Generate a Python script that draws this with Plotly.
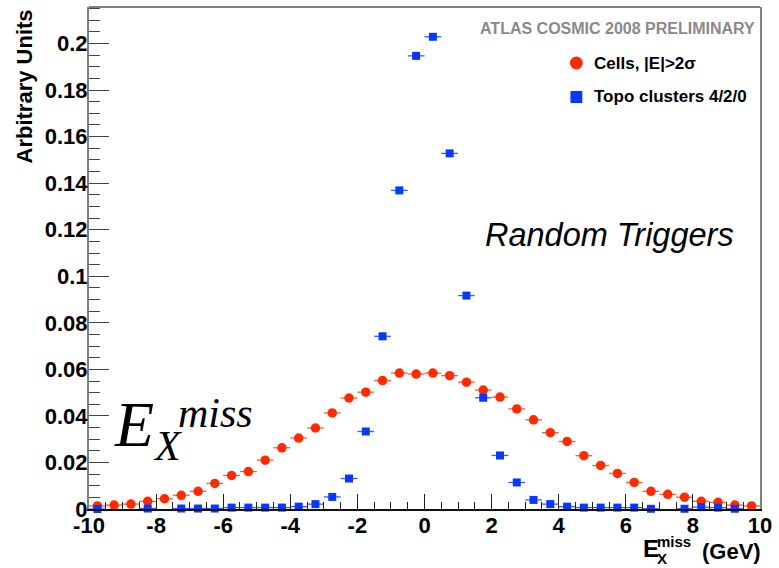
import plotly.graph_objects as go

# Bin centres of the E_X^miss histograms (GeV), 0.5 GeV bins from -10 to 10
bin_centers = [
    -9.75, -9.25, -8.75, -8.25, -7.75, -7.25, -6.75, -6.25, -5.75, -5.25,
    -4.75, -4.25, -3.75, -3.25, -2.75, -2.25, -1.75, -1.25, -0.75, -0.25,
    0.25, 0.75, 1.25, 1.75, 2.25, 2.75, 3.25, 3.75, 4.25, 4.75,
    5.25, 5.75, 6.25, 6.75, 7.25, 7.75, 8.25, 8.75, 9.25, 9.75,
]
bin_half_width = 0.25

# Cells with |E| > 2 sigma
cells_values = [
    0.0013, 0.0017, 0.0021, 0.0033, 0.0044, 0.0059, 0.0076, 0.0110, 0.0144, 0.0161,
    0.0210, 0.0263, 0.0305, 0.0348, 0.0413, 0.0477, 0.0502, 0.0552, 0.0584, 0.0580,
    0.0584, 0.0573, 0.0545, 0.0511, 0.0481, 0.0430, 0.0383, 0.0328, 0.0290, 0.0229,
    0.0187, 0.0153, 0.0114, 0.0076, 0.0063, 0.0051, 0.0033, 0.0029, 0.0017, 0.0013,
]
cells_error = 0.0006

# Topo clusters 4/2/0 (empty bins are None)
topo_values = [
    0.0000, None, None, 0.0002, None, 0.0002, 0.0002, 0.0002, 0.0006, 0.0006,
    0.0006, 0.0006, 0.0010, 0.0021, 0.0052, 0.0131, 0.0333, 0.0742, 0.1369, 0.1947,
    0.2029, 0.1528, 0.0917, 0.0478, 0.0230, 0.0114, 0.0039, 0.0021, 0.0010, 0.0006,
    0.0006, 0.0006, 0.0006, 0.0001, None, 0.0001, 0.0008, 0.0006, 0.0001, None,
]
topo_error = 0.0015

x_tick_vals = [-10, -8, -6, -4, -2, 0, 2, 4, 6, 8, 10]
x_tick_text = ["-10", "-8", "-6", "-4", "-2", "0", "2", "4", "6", "8", "10"]
y_tick_vals = [0, 0.02, 0.04, 0.06, 0.08, 0.1, 0.12, 0.14, 0.16, 0.18, 0.2]
y_tick_text = ["0", "0.02", "0.04", "0.06", "0.08", "0.1", "0.12", "0.14", "0.16", "0.18", "0.2"]

RED = "#ff2a00"
BLUE = "#0638ff"
SANS = "Liberation Sans, Arial, Helvetica, sans-serif"
SERIF = "Liberation Serif, Times New Roman, serif"

fig = go.Figure()

fig.add_trace(go.Scatter(
    x=bin_centers, y=cells_values, mode="markers", name="Cells, |E|>2σ",
    marker=dict(symbol="circle", size=9.5, color=RED),
    error_x=dict(type="constant", value=bin_half_width, width=0, thickness=1.3, color="#ff5a3c"),
    error_y=dict(type="constant", value=cells_error, width=0, thickness=1.3, color="#ff5a3c"),
    cliponaxis=False, showlegend=False,
))
fig.add_trace(go.Scatter(
    x=bin_centers, y=topo_values, mode="markers", name="Topo clusters 4/2/0",
    marker=dict(symbol="square", size=8, color=BLUE),
    error_x=dict(type="constant", value=bin_half_width, width=0, thickness=1.3, color="#3a5cff"),
    error_y=dict(type="constant", value=topo_error, width=0, thickness=1.3, color="#3a5cff"),
    cliponaxis=False, showlegend=False,
))

W, H = 779, 568
L, R, T, B = 89, 14, 7, 59
PW, PH = W - L - R, H - T - B


def px(xp):
    return (xp - L) / PW


def py(yp):
    return (H - B - yp) / PH


annotations = [
    dict(text="ATLAS COSMIC 2008 PRELIMINARY", x=px(762), y=py(29), xanchor="right", yanchor="middle",
         font=dict(family=SANS, size=16, color="#8a8a8a", weight="bold")),
    dict(text="Cells, |E|>2σ", x=px(596), y=py(63), xanchor="left", yanchor="middle",
         font=dict(family=SANS, size=17, color="black", weight="bold")),
    dict(text="Topo clusters 4/2/0", x=px(596), y=py(97), xanchor="left", yanchor="middle",
         font=dict(family=SANS, size=17, color="black", weight="bold")),
    dict(text="<i>Random Triggers</i>", x=px(486), y=py(235), xanchor="left", yanchor="middle",
         font=dict(family=SANS, size=32.5, color="black")),
    # large E_X^miss label
    dict(text="<i>E</i>", x=px(112), y=py(424), xanchor="left", yanchor="middle",
         font=dict(family=SERIF, size=64, color="black")),
    dict(text="<i>X</i>", x=px(151), y=py(446), xanchor="left", yanchor="middle",
         font=dict(family=SERIF, size=42, color="black")),
    dict(text="<i>miss</i>", x=px(177), y=py(413), xanchor="left", yanchor="middle",
         font=dict(family=SERIF, size=42, color="black")),
    # axis titles
    dict(text="Arbitrary Units", x=px(25), y=py(86), xanchor="center", yanchor="middle", textangle=-90,
         font=dict(family=SANS, size=22, color="black", weight="bold")),
    dict(text="E", x=px(645), y=py(548), xanchor="left", yanchor="middle",
         font=dict(family=SANS, size=24, color="black", weight="bold")),
    dict(text="miss", x=px(659), y=py(541), xanchor="left", yanchor="middle",
         font=dict(family=SANS, size=15, color="black", weight="bold")),
    dict(text="X", x=px(659), y=py(558), xanchor="left", yanchor="middle",
         font=dict(family=SANS, size=15, color="black", weight="bold")),
    dict(text="(GeV)", x=px(768), y=py(551), xanchor="right", yanchor="middle",
         font=dict(family=SANS, size=22, color="black", weight="bold")),
]
for a in annotations:
    a.update(xref="paper", yref="paper", showarrow=False)

shapes = [
    # frame top edge
    dict(type="line", xref="paper", yref="paper", x0=0, x1=1, y0=1, y1=1,
         line=dict(color="#808080", width=2)),
    # legend symbols
    dict(type="circle", xref="paper", yref="paper", x0=px(573.5), x1=px(586.5), y0=py(69.5), y1=py(56.5),
         fillcolor=RED, line=dict(width=0)),
    dict(type="rect", xref="paper", yref="paper", x0=px(574), x1=px(586), y0=py(103), y1=py(91),
         fillcolor=BLUE, line=dict(width=0)),
]

fig.update_layout(
    width=W, height=H,
    margin=dict(l=L, r=R, t=T, b=B, pad=0),
    paper_bgcolor="white", plot_bgcolor="white",
    annotations=annotations, shapes=shapes,
    font=dict(family=SANS, color="black"),
)
fig.update_xaxes(
    range=[-10, 10], showgrid=False, zeroline=False,
    showline=True, linecolor="#111111", linewidth=2, mirror=False,
    ticks="inside", ticklen=15, tickwidth=1.3, tickcolor="#222222",
    tickvals=x_tick_vals, ticktext=x_tick_text, ticklabelstandoff=-4,
    tickfont=dict(family=SANS, size=22, color="black", weight="bold"),
    minor=dict(dtick=0.5, ticks="inside", ticklen=7, tickwidth=1.2, tickcolor="#222222", showgrid=False),
)
fig.update_yaxes(
    range=[0, 0.2157], showgrid=False, zeroline=False,
    showline=True, linecolor="#808080", linewidth=2, mirror=True,
    ticks="inside", ticklen=20, tickwidth=1.3, tickcolor="#444444",
    tickvals=y_tick_vals, ticktext=y_tick_text, ticklabelstandoff=-5,
    tickfont=dict(family=SANS, size=22, color="black", weight="bold"),
    minor=dict(dtick=0.005, ticks="inside", ticklen=11, tickwidth=1.2, tickcolor="#444444", showgrid=False),
)

fig.write_html("out.html")
